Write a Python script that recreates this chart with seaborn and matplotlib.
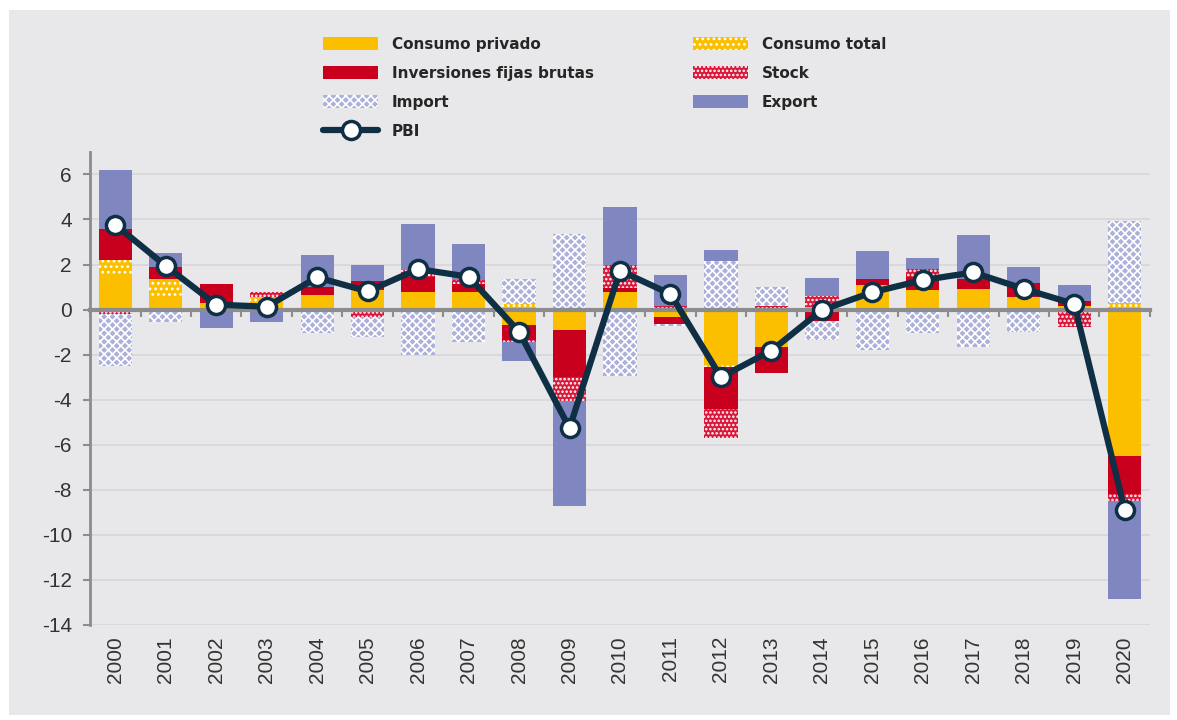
import numpy as np
import matplotlib.pyplot as plt
import seaborn as sns
from matplotlib.patches import Rectangle

# Contribuciones al crecimiento del PBI (puntos porcentuales)
years = [str(y) for y in range(2000, 2021)]
consumo_privado = [1.6, 0.6, 0.3, 0.3, 0.67, 0.85, 0.8, 0.8, -0.7, -0.9, 0.77,
                   -0.35, -2.4, -1.67, 0.1, 1.1, 0.85, 0.93, 0.58, 0.15, -6.5]
consumo_total = [0.6, 0.75, 0.0, 0.25, 0.0, 0.0, 0.0, 0.0, 0.25, 0.0, 0.0,
                 0.0, -0.15, 0.0, 0.0, 0.0, 0.0, 0.0, 0.0, 0.0, 0.3]
inversiones = [1.4, 0.55, 0.84, 0.0, 0.32, 0.4, 0.65, 0.35, -0.65, -2.07, 0.2,
               -0.3, -1.85, -1.15, -0.5, 0.25, 0.6, 0.43, 0.6, 0.25, -1.7]
stock = [-0.2, 0.0, 0.0, 0.25, 0.0, -0.35, 0.3, 0.15, -0.1, -1.07, 1.0,
         0.15, -1.3, 0.15, 0.5, 0.0, 0.35, 0.0, 0.0, -0.78, -0.3]
imports = [-2.3, -0.55, 0.0, -0.1, -1.05, -0.85, -2.0, -1.42, 1.1, 3.37, -2.93,
           -0.1, 2.17, 0.84, -0.85, -1.8, -1.05, -1.67, -1.0, 0.0, 3.65]
exports = [2.6, 0.6, -0.8, -0.45, 1.43, 0.75, 2.05, 1.6, -0.85, -4.7, 2.6,
           1.4, 0.48, 0.0, 0.8, 1.25, 0.5, 1.95, 0.73, 0.7, -4.35]
pbi = [3.77, 1.94, 0.22, 0.13, 1.43, 0.81, 1.8, 1.46, -0.98, -5.26, 1.73,
       0.69, -3.0, -1.82, -0.02, 0.77, 1.31, 1.65, 0.92, 0.25, -8.88]

series = [
    ('Consumo privado', consumo_privado, '#fbbf00', None),
    ('Consumo total', consumo_total, '#fbbf00', '...'),
    ('Inversiones fijas brutas', inversiones, '#c8001e', None),
    ('Stock', stock, '#d8183a', '....'),
    ('Import', imports, '#adb1da', 'xxxx'),
    ('Export', exports, '#7f86c0', None),
]

sns.set_style('white')
plt.rcParams['font.family'] = ['Liberation Sans', 'DejaVu Sans']
plt.rcParams['axes.unicode_minus'] = False
plt.rcParams['hatch.linewidth'] = 1.2

bg = '#e8e8ea'
navy = '#0e2f44'
gray = '#8c8c8c'

fig = plt.figure(figsize=(11.77, 7.2), dpi=100, facecolor='white')
fig.patches.append(Rectangle((0.008, 0.007), 0.986, 0.979, transform=fig.transFigure,
                             facecolor=bg, edgecolor='none', zorder=-1))
ax = fig.add_axes([0.0765, 0.132, 0.9005, 0.657])
ax.set_facecolor(bg)

x = np.arange(len(years))
pos_base = np.zeros(len(x))
neg_base = np.zeros(len(x))
handles = {}
for label, vals, color, hatch in series:
    v = np.array(vals)
    pos = np.clip(v, 0, None)
    neg = np.clip(v, None, 0)
    kw = dict(width=0.66, color=color, hatch=hatch,
              edgecolor='white' if hatch else color, linewidth=0, zorder=2)
    handles[label] = ax.bar(x, pos, bottom=pos_base, label=label, **kw)
    ax.bar(x, neg, bottom=neg_base, **kw)
    pos_base += pos
    neg_base += neg

sns.lineplot(x=x, y=pbi, ax=ax, color=navy, linewidth=4.5, marker='o',
             markersize=13, markerfacecolor='white', markeredgecolor=navy,
             markeredgewidth=2.5, zorder=5, label='PBI')
line = ax.get_lines()[-1]

# Axes styling
ax.set_xlim(-0.5, 20.5)
ax.set_ylim(-14, 7)
ax.set_yticks(range(-14, 7, 2))
ax.tick_params(axis='y', labelsize=15, length=5, color=gray, width=1.5,
               labelcolor='#333333', left=True, pad=8)
ax.yaxis.grid(True, color='#d7d7d9', linewidth=1.2)
ax.set_axisbelow(True)
for s in ['top', 'right']:
    ax.spines[s].set_visible(False)
ax.spines['left'].set_color(gray)
ax.spines['left'].set_linewidth(2)

# zero line with small ticks between categories
ax.spines['bottom'].set_position(('data', 0))
ax.spines['bottom'].set_color(gray)
ax.spines['bottom'].set_linewidth(3)
ax.spines['bottom'].set_zorder(3)
ax.set_xticks(np.arange(-0.5, 21, 1))
ax.set_xticklabels([])
ax.tick_params(axis='x', length=5, color=gray, width=1.5, bottom=True)

sec = ax.secondary_xaxis('bottom')
sec.set_xticks(x, labels=years)
sec.tick_params(length=0, labelrotation=90, labelsize=15, labelcolor='#333333', pad=8)
sec.spines['bottom'].set_visible(False)

order = ['Consumo privado', 'Inversiones fijas brutas', 'Import', 'PBI',
         'Consumo total', 'Stock', 'Export']
handles['PBI'] = line
if ax.get_legend() is not None:
    ax.get_legend().remove()
fig.legend([handles[k] for k in order], order, ncol=2, loc='upper left',
           bbox_to_anchor=(0.263, 0.968), frameon=False,
           prop=dict(family='DejaVu Sans', weight='bold', size=11),
           handlelength=3.6, handleheight=0.9, labelspacing=0.92,
           columnspacing=6.5, handletextpad=0.9)

fig.savefig('out.png', dpi=100, facecolor=fig.get_facecolor())
